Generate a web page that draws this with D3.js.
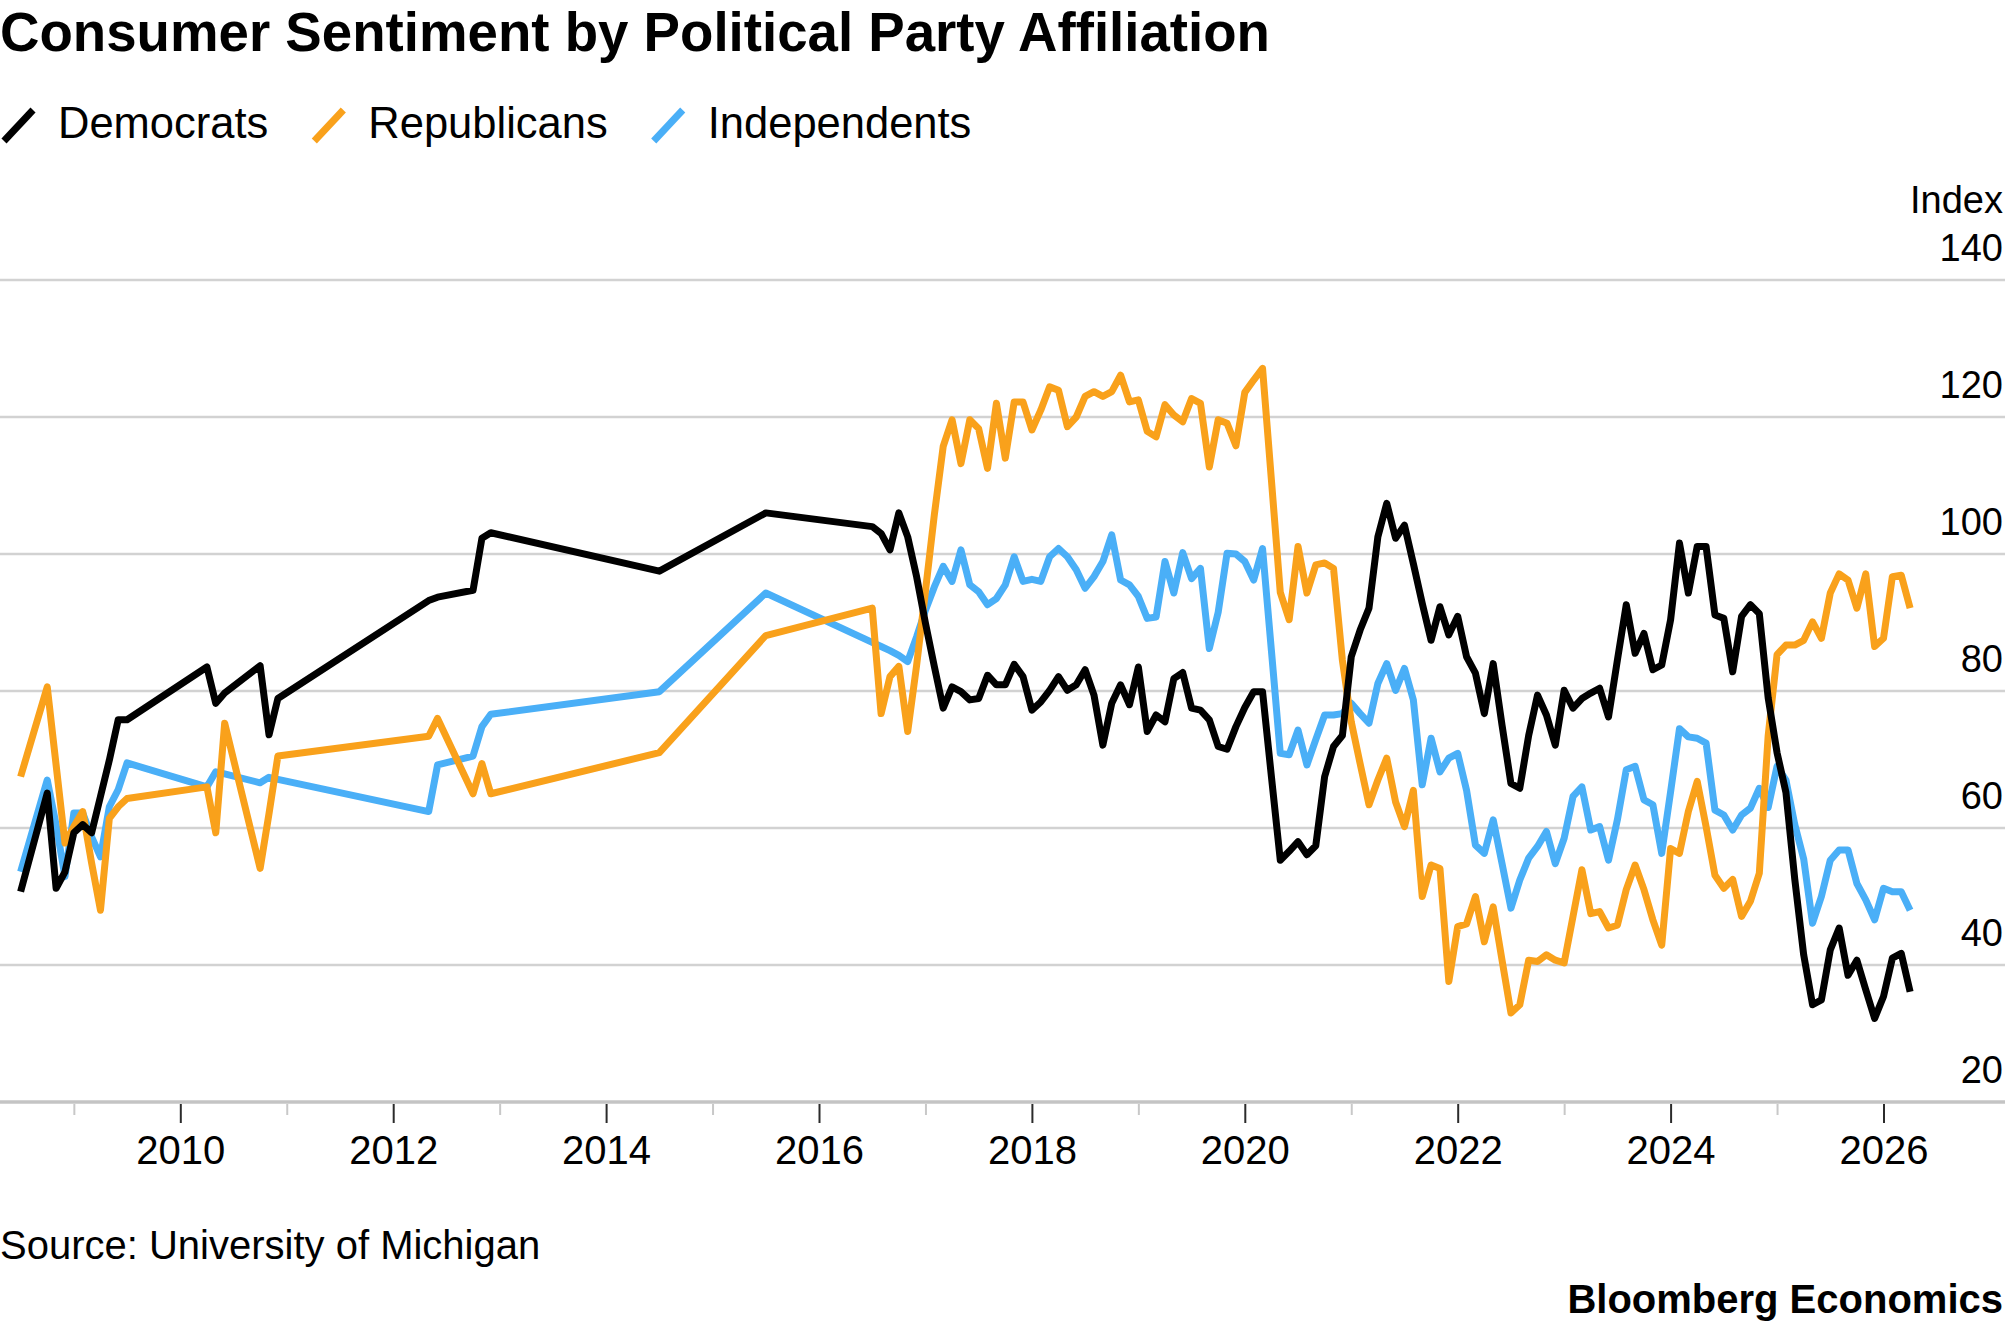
<!DOCTYPE html>
<html>
<head>
<meta charset="utf-8">
<script src="https://cdn.jsdelivr.net/npm/d3@7"></script>
<style>
html,body{margin:0;padding:0;background:#fff;}
svg{display:block;font-family:"Liberation Sans",Arial,Helvetica,sans-serif;}
</style>
</head>
<body>
<svg id="chart" width="2005" height="1329"></svg>
<script>
// ---------- DATA ----------
const dates = [
  "2008-07","2008-10","2008-11","2008-12","2009-01","2009-02","2009-03","2009-04","2009-05","2009-06","2009-07",
  "2010-04","2010-05","2010-06","2010-10","2010-11","2010-12",
  "2012-05","2012-06","2012-10","2012-11","2012-12",
  "2014-07","2015-07",
  "2016-07","2016-08","2016-09","2016-10","2016-11","2016-12",
  "2017-01","2017-02","2017-03","2017-04","2017-05","2017-06","2017-07","2017-08","2017-09","2017-10","2017-11","2017-12",
  "2018-01","2018-02","2018-03","2018-04","2018-05","2018-06","2018-07","2018-08","2018-09","2018-10","2018-11","2018-12",
  "2019-01","2019-02","2019-03","2019-04","2019-05","2019-06","2019-07","2019-08","2019-09","2019-10","2019-11","2019-12",
  "2020-01","2020-02","2020-03","2020-04","2020-05","2020-06","2020-07","2020-08","2020-09","2020-10","2020-11","2020-12",
  "2021-01","2021-02","2021-03","2021-04","2021-05","2021-06","2021-07","2021-08","2021-09","2021-10","2021-11","2021-12",
  "2022-01","2022-02","2022-03","2022-04","2022-05","2022-06","2022-07","2022-08","2022-09","2022-10","2022-11","2022-12",
  "2023-01","2023-02","2023-03","2023-04","2023-05","2023-06","2023-07","2023-08","2023-09","2023-10","2023-11","2023-12",
  "2024-01","2024-02","2024-03","2024-04","2024-05","2024-06","2024-07","2024-08","2024-09","2024-10","2024-11","2024-12",
  "2025-01","2025-02","2025-03","2025-04","2025-05","2025-06","2025-07","2025-08","2025-09","2025-10","2025-11","2025-12",
  "2026-01","2026-02","2026-03","2026-04"
];

const democrats = [
  50.7, 65.1, 51.2, 53.6, 59.3, 60.5, 59.3, 64.6, 69.9, 75.8, 75.8,
  83.5, 78.2, 79.7, 83.7, 73.6, 78.9,
  93.2, 93.7, 94.7, 102.3, 103.1,
  97.5, 106.0,
  104.0, 103.0, 100.6, 106.0, 102.5, 96.7,
  89.9, 83.6, 77.5, 80.6, 79.9, 78.7, 78.9, 82.3, 80.9, 80.9, 83.9, 82.1,
  77.2, 78.4, 80.1, 82.1, 80.1, 80.9, 83.1, 79.4, 72.1, 78.2, 80.9, 78.0,
  83.5, 74.1, 76.5, 75.5, 81.8, 82.7, 77.5, 77.2, 75.8, 71.9, 71.5, 74.8,
  77.6, 79.9, 79.9, 67.5, 55.3, 56.6, 58.0, 56.1, 57.4, 67.5, 71.9, 73.5,
  85.0, 88.9, 92.1, 102.5, 107.4, 102.3, 104.2, 98.6, 92.8, 87.4, 92.3, 88.2,
  90.9, 85.0, 82.6, 76.7, 84.0, 75.0, 66.5, 65.8, 73.5, 79.4, 76.5, 72.1,
  80.1, 77.5, 78.9, 79.7, 80.4, 76.2, 84.5, 92.6, 85.5, 88.4, 83.1, 83.8,
  90.4, 101.6, 94.3, 101.1, 101.1, 91.1, 90.6, 82.8, 90.9, 92.6, 91.3, 79.0,
  71.0, 65.2, 52.5, 41.5, 34.2, 34.9, 42.2, 45.4, 38.5, 40.7, 36.4, 32.2,
  35.4, 41.0, 41.7, 36.1
];

const republicans = [
  67.5, 80.6, 69.2, 57.8, 60.2, 62.4, 54.9, 48.0, 61.4, 63.1, 64.3,
  66.0, 59.3, 75.3, 54.1, 62.1, 70.5,
  73.4, 76.0, 65.0, 69.4, 65.0,
  71.0, 88.1,
  92.1, 76.7, 82.1, 83.6, 74.1, 83.7,
  94.6, 105.7, 115.7, 119.6, 113.2, 119.6, 118.3, 112.5, 122.0, 114.0, 122.2, 122.2,
  118.1, 121.0, 124.4, 123.9, 118.6, 120.0, 123.0, 123.7, 123.0, 123.7, 126.1, 122.2,
  122.5, 117.9, 117.1, 121.8, 120.3, 119.3, 122.7, 122.0, 112.7, 119.6, 119.1, 115.8,
  123.6, 125.4, 127.1, 110.8, 94.4, 90.4, 101.1, 94.3, 98.4, 98.7, 97.9, 84.5,
  75.5, 69.4, 63.4, 67.0, 70.2, 63.8, 60.2, 65.5, 50.0, 54.6, 54.1, 37.6,
  45.6, 46.0, 50.0, 43.4, 48.5, 40.7, 33.0, 34.2, 40.7, 40.5, 41.5, 40.7,
  40.3, 47.1, 53.9, 47.5, 47.8, 45.4, 45.8, 51.0, 54.6, 51.0, 46.6, 42.9,
  57.0, 56.3, 62.4, 66.8, 60.2, 53.1, 51.2, 52.5, 47.1, 49.3, 53.4, 73.5,
  85.3, 86.7, 86.7, 87.4, 90.1, 87.7, 94.3, 97.1, 96.2, 92.1, 97.1, 86.5,
  87.7, 96.7, 96.9, 92.1
];

const independents = [
  53.6, 67.0, 60.5, 52.9, 62.2, 62.2, 58.7, 55.8, 63.1, 65.6, 69.5,
  66.0, 68.2, 67.9, 66.6, 67.4, 67.1,
  62.4, 69.2, 70.5, 74.8, 76.6,
  79.9, 94.3,
  87.1, 86.5, 85.9, 85.2, 84.3, 87.9,
  91.8, 95.2, 98.2, 96.0, 100.6, 95.5, 94.5, 92.6, 93.5, 95.5, 99.6, 96.0,
  96.3, 96.0, 99.6, 100.8, 99.6, 97.7, 95.0, 96.7, 98.9, 102.8, 96.2, 95.5,
  93.8, 90.6, 90.8, 98.9, 94.3, 100.2, 96.4, 97.9, 86.2, 91.5, 100.1, 100.0,
  98.9, 96.2, 100.8, 85.9, 70.9, 70.7, 74.3, 69.2, 72.9, 76.5, 76.5, 76.7,
  78.2, 76.7, 75.3, 81.1, 84.0, 80.1, 83.3, 78.7, 66.3, 73.1, 68.2, 70.2,
  70.9, 65.5, 57.5, 56.3, 61.2, 54.8, 48.3, 52.4, 55.6, 57.3, 59.5, 54.8,
  58.5, 64.6, 66.0, 59.7, 60.2, 55.3, 61.2, 68.5, 69.0, 64.1, 63.4, 56.3,
  65.3, 74.5, 73.3, 73.1, 72.4, 62.6, 61.9, 59.7, 61.9, 62.9, 65.8, 63.0,
  69.0, 67.0, 60.5, 55.5, 46.1, 50.0, 55.3, 56.8, 56.8, 51.9, 49.5, 46.6,
  51.2, 50.7, 50.7, 48.0
];

const seriesNames  = ["Democrats", "Republicans", "Independents"];
const seriesColors = ["#000000", "#F9A11B", "#4AAFF7"];
const yTickValues  = [20, 40, 60, 80, 100, 120, 140];
const majorYears   = [2010, 2012, 2014, 2016, 2018, 2020, 2022, 2024, 2026];
const minorYears   = [2009, 2011, 2013, 2015, 2017, 2019, 2021, 2023, 2025];
const titleText    = "Consumer Sentiment by Political Party Affiliation";
const unitText     = "Index";
const sourceText   = "Source: University of Michigan";
const brandText    = "Bloomberg Economics";

// ---------- CHART ----------
const W = 2005, H = 1329;
const svg = d3.select("#chart");
svg.append("rect").attr("width", W).attr("height", H).attr("fill", "#fff");

const toYear = s => { const p = s.split("-").map(Number); return p[0] + (p[1] - 1) / 12; };
const x = d3.scaleLinear().domain([2010, 2026]).range([180.3, 1883.5]);
const y = d3.scaleLinear().domain([20, 140]).range([1102, 280]);

// gridlines
svg.append("g").selectAll("line").data(yTickValues).join("line")
  .attr("x1", 0).attr("x2", W)
  .attr("y1", d => y(d)).attr("y2", d => y(d))
  .attr("stroke", d => d === 20 ? "#c4c4c4" : "#d2d2d2")
  .attr("stroke-width", d => d === 20 ? 3.5 : 2.4);

// y axis labels (right side)
const yAxis = d3.axisLeft(y).tickValues(yTickValues).tickSize(0).tickPadding(0).tickFormat(d3.format("d"));
const gy = svg.append("g").attr("transform", "translate(2003,0)").call(yAxis);
gy.select(".domain").remove();
gy.attr("font-family", null).attr("font-size", null);
gy.selectAll(".tick text").attr("x", 0).attr("dy", 0).attr("y", -20)
  .attr("font-size", 38).attr("fill", "#000").attr("text-anchor", "end");
svg.append("text").attr("x", 2003).attr("y", y(140) - 67).attr("text-anchor", "end")
  .attr("font-size", 38).attr("fill", "#000").text(unitText);

// x axis: major ticks with labels
const xAxis = d3.axisBottom(x).tickValues(majorYears).tickSize(19).tickFormat(d3.format("d"));
const gx = svg.append("g").attr("transform", "translate(0,1104)").call(xAxis);
gx.select(".domain").remove();
gx.attr("font-family", null).attr("font-size", null);
gx.selectAll(".tick line").attr("stroke", "#2b2b2b").attr("stroke-width", 2);
gx.selectAll(".tick text").attr("y", 60).attr("dy", 0).attr("font-size", 40).attr("fill", "#000");

// minor ticks
const xMinor = d3.axisBottom(x).tickValues(minorYears).tickSize(11).tickFormat("");
const gm = svg.append("g").attr("transform", "translate(0,1104)").call(xMinor);
gm.select(".domain").remove();
gm.selectAll(".tick line").attr("stroke", "#c8c8c8").attr("stroke-width", 2);

// lines
const seriesValues = [democrats, republicans, independents];
const line = d3.line().x(d => x(d.t)).y(d => y(d.v));
const drawOrder = [2, 1, 0];
drawOrder.forEach(i => {
  const pts = dates.map((dt, k) => ({ t: toYear(dt), v: seriesValues[i][k] }));
  svg.append("path").datum(pts)
    .attr("fill", "none")
    .attr("stroke", seriesColors[i])
    .attr("stroke-width", 7)
    .attr("stroke-linejoin", "round")
    .attr("stroke-linecap", "butt")
    .attr("d", line);
});

// title
const title = svg.append("text").attr("x", 0).attr("y", 51)
  .attr("font-size", 55).attr("font-weight", "bold").attr("fill", "#000").text(titleText);
const tw = title.node().getComputedTextLength();
if (Math.abs(tw - 1270) > 6) title.attr("textLength", 1270).attr("lengthAdjust", "spacingAndGlyphs");

// legend
const leg = svg.append("g");
let lx = 4;
seriesNames.forEach((name, i) => {
  leg.append("line").attr("x1", lx).attr("y1", 141).attr("x2", lx + 29).attr("y2", 110)
    .attr("stroke", seriesColors[i]).attr("stroke-width", 7).attr("stroke-linecap", "butt");
  const t = leg.append("text").attr("x", lx + 54).attr("y", 138)
    .attr("font-size", 43.5).attr("fill", "#000").text(name);
  lx = lx + 54 + t.node().getComputedTextLength() + 46;
});

// footer
svg.append("text").attr("x", 0).attr("y", 1259).attr("font-size", 40).attr("fill", "#000").text(sourceText);
svg.append("text").attr("x", 2003).attr("y", 1313).attr("text-anchor", "end")
  .attr("font-size", 40).attr("font-weight", "bold").attr("fill", "#000").text(brandText);
</script>
</body>
</html>
